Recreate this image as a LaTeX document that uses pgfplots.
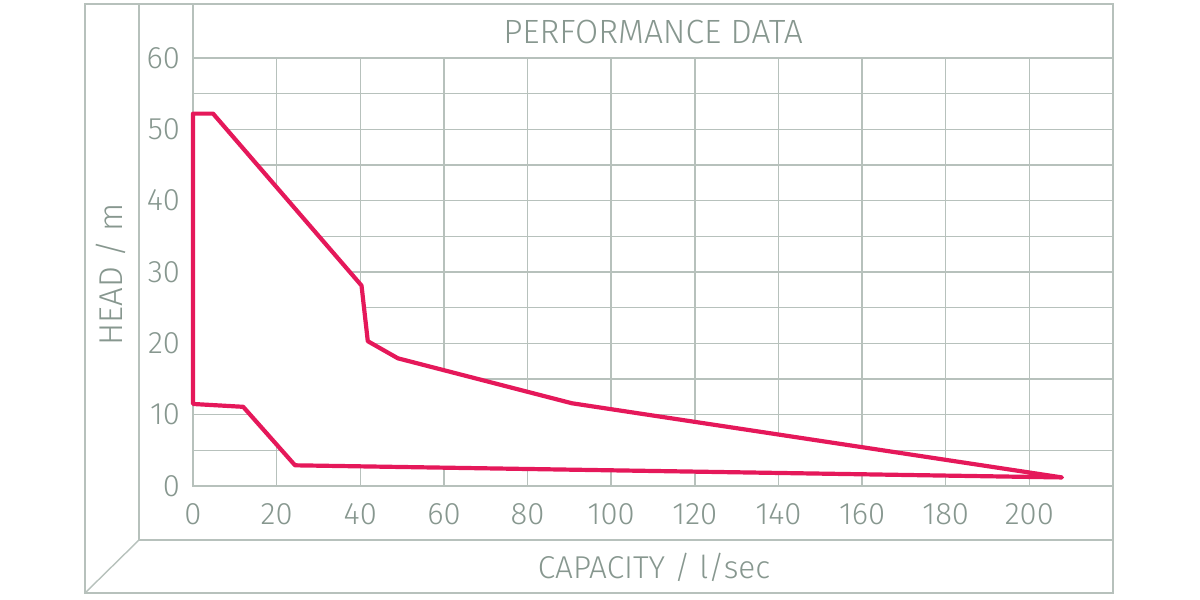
\documentclass[border=0pt]{standalone}
\usepackage{fontspec}
\setmainfont{Fira Sans}[UprightFont={* Light}]
\usepackage{pgfplots}
\pgfplotsset{compat=1.18}
\definecolor{gridc}{HTML}{B7C1BC}
\definecolor{txtc}{HTML}{87978F}
\definecolor{curve}{HTML}{E5185A}
\begin{document}
\begin{tikzpicture}
\path[use as bounding box] (0,0) rectangle (600pt,300pt);
\begin{axis}[
  at={(96.5pt,57pt)}, anchor=south west,
  scale only axis, width=460pt, height=214pt,
  xmin=0, xmax=220, ymin=0, ymax=60,
  clip=false,
  xtick={0,20,...,200}, ytick={0,5,...,60},
  yticklabels={0,,10,,20,,30,,40,,50,,60},
  grid=major, major grid style={gridc, line width=0.7pt},
  axis line style={gridc, line width=0.7pt},
  tick style={draw=none}, major tick length=0pt,
  tick label style={font=\fontsize{15.5}{18}\selectfont, text=txtc},
  /pgf/number format/assume math mode=true,
  xticklabel style={yshift=-5pt},
  yticklabel style={xshift=-3pt},
]
\addplot[draw=curve, fill=white, line width=2.1pt, line join=round] coordinates {
 (0,52.2) (4.8,52.2) (40.3,28.1) (41.8,20.3) (49.0,17.9) (90.6,11.6)
 (207.8,1.2) (24.4,2.9) (12.0,11.1) (0,11.5)
} -- cycle;
\end{axis}
\draw[gridc, line width=0.7pt] (42.5pt,3.5pt) rectangle (556.5pt,298pt);
\draw[gridc, line width=0.7pt] (69.5pt,298pt) -- (69.5pt,30pt) -- (556.5pt,30pt);
\draw[gridc, line width=0.7pt] (69.5pt,30pt) -- (42.5pt,3.5pt);
\draw[gridc, line width=0.7pt] (96.5pt,298pt) -- (96.5pt,271pt);
\node[text=txtc, font=\fontsize{16.8}{20}\selectfont] at (326.5pt,284pt) {PERFORMANCE DATA};
\node[text=txtc, font=\fontsize{15.8}{18}\selectfont] at (327pt,16.5pt) {CAPACITY / l/sec};
\node[text=txtc, font=\fontsize{16.5}{19}\selectfont, rotate=90] at (55.5pt,163pt) {HEAD / m};
\end{tikzpicture}
\end{document}
